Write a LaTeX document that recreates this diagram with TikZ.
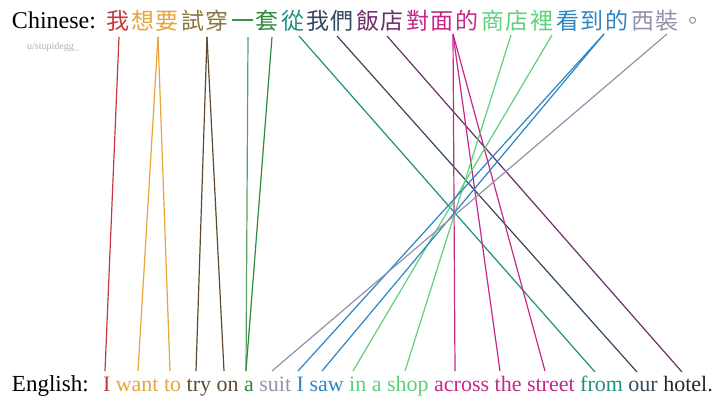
\documentclass[tikz,border=0pt]{standalone}
\usepackage{fontspec}
\setmainfont{Liberation Serif}
\newfontfamily\cjk{Noto Sans CJK TC}
\newcommand\zgap{\kern2pt}
\definecolor{cRed}{HTML}{C63A3A}
\definecolor{cOrange}{HTML}{E8A33A}
\definecolor{cBrownZ}{HTML}{8B7442}
\definecolor{cBrown}{HTML}{5E4A2E}
\definecolor{cGreen}{HTML}{2F8A3A}
\definecolor{cTeal}{HTML}{1F9080}
\definecolor{cSlate}{HTML}{34495E}
\definecolor{cPurple}{HTML}{6C2F6E}
\definecolor{cMagenta}{HTML}{C8278A}
\definecolor{cLight}{HTML}{5FD07C}
\definecolor{cBlue}{HTML}{2E85C2}
\definecolor{cGray}{HTML}{9492A8}
\begin{document}
\begin{tikzpicture}[x=1pt,y=-1pt,
  zh/.style={font=\cjk\fontsize{23}{23}\selectfont, inner sep=0pt, outer sep=0pt, anchor=base west},
  en/.style={font=\fontsize{22}{22}\selectfont, inner sep=0pt, outer sep=0pt, anchor=base west},
  lab/.style={inner sep=0pt, outer sep=0pt, anchor=base west, text=black},
  lnk/.style={line width=1.2pt}]
\fill[white] (0,0) rectangle (720,400);
\useasboundingbox (0,0) rectangle (720,400);

% labels
\node[lab, font=\fontsize{24}{24}\selectfont] (zhlab) at (12,28) {Chinese:};
\node[lab, font=\fontsize{23}{23}\selectfont] (enlab) at (12,391) {English:};
\node[inner sep=0pt, anchor=west, text=black!30, font=\fontsize{10}{10}\selectfont] (credit) at (27,47) {u/stupidegg\_};

% Chinese sentence
\node[zh, text=cRed] (z1) at (106,29) {我};
\node[zh, text=cOrange] (z2) at ([xshift=2pt]z1.base east) {想\zgap 要};
\node[zh, text=cBrownZ] (z3) at ([xshift=2pt]z2.base east) {試\zgap 穿};
\node[zh, text=cGreen] (z4) at ([xshift=2pt]z3.base east) {一\zgap 套};
\node[zh, text=cTeal] (z5) at ([xshift=2pt]z4.base east) {從};
\node[zh, text=cSlate] (z6) at ([xshift=2pt]z5.base east) {我\zgap 們};
\node[zh, text=cPurple] (z7) at ([xshift=2pt]z6.base east) {飯\zgap 店};
\node[zh, text=cMagenta] (z8) at ([xshift=2pt]z7.base east) {對\zgap 面\zgap 的};
\node[zh, text=cLight] (z9) at ([xshift=2pt]z8.base east) {商\zgap 店\zgap 裡};
\node[zh, text=cBlue] (z10) at ([xshift=2pt]z9.base east) {看\zgap 到\zgap 的};
\node[zh, text=cGray] (z11) at ([xshift=2pt]z10.base east) {西\zgap 裝};
\node[zh, text=cGray] (z12) at ([xshift=2pt]z11.base east) {。};

% English sentence
\node[en, text=cRed] (e1) at (103,391) {I};
\node[en, text=cOrange] (e2) at ([xshift=5.5pt]e1.base east) {want};
\node[en, text=cOrange] (e3) at ([xshift=5.5pt]e2.base east) {to};
\node[en, text=cBrown] (e4) at ([xshift=5.5pt]e3.base east) {try};
\node[en, text=cBrown] (e5) at ([xshift=5.5pt]e4.base east) {on};
\node[en, text=cGreen] (e6) at ([xshift=5.5pt]e5.base east) {a};
\node[en, text=cGray] (e7) at ([xshift=5.5pt]e6.base east) {suit};
\node[en, text=cBlue] (e8) at ([xshift=5.5pt]e7.base east) {I};
\node[en, text=cBlue] (e9) at ([xshift=5.5pt]e8.base east) {saw};
\node[en, text=cLight] (e10) at ([xshift=5.5pt]e9.base east) {in};
\node[en, text=cLight] (e11) at ([xshift=5.5pt]e10.base east) {a};
\node[en, text=cLight] (e12) at ([xshift=5.5pt]e11.base east) {shop};
\node[en, text=cMagenta] (e13) at ([xshift=5.5pt]e12.base east) {across};
\node[en, text=cMagenta] (e14) at ([xshift=5.5pt]e13.base east) {the};
\node[en, text=cMagenta] (e15) at ([xshift=5.5pt]e14.base east) {street};
\node[en, text=cTeal] (e16) at ([xshift=5.5pt]e15.base east) {from};
\node[en, text=cSlate] (e17) at ([xshift=5.5pt]e16.base east) {our};
\node[en, text=black!85] (e18) at ([xshift=5.5pt]e17.base east) {hotel.};

% top end points
\coordinate (t1) at (119,37);
\coordinate (t2) at (158,37);
\coordinate (t3) at (207,37);
\coordinate (t4) at (248,37);
\coordinate (t5) at (272,37);
\coordinate (t6) at (299,36);
\coordinate (t7) at (337,36);
\coordinate (t8) at (387,36);
\coordinate (t9) at (453,34);
\coordinate (t10) at (511,35);
\coordinate (t11) at (552,35);
\coordinate (t12) at (604,34);
\coordinate (t13) at (667,34);

% bottom end points
\coordinate (b1) at (105,371);
\coordinate (b2) at (138,371);
\coordinate (b3) at (170,371);
\coordinate (b4) at (196,371);
\coordinate (b5) at (224,371);
\coordinate (b6) at (246,371);
\coordinate (b7) at (272,371);
\coordinate (b8) at (298,371);
\coordinate (b9) at (322,371);
\coordinate (b10) at (353,371);
\coordinate (b12) at (405,371);
\coordinate (b13) at (455,371);
\coordinate (b14) at (500,371);
\coordinate (b15) at (545,371);
\coordinate (b16) at (595,372);
\coordinate (b17) at (637,372);
\coordinate (b18) at (682,372);

% connectors
\draw[lnk, cRed] (t1) -- (b1);
\draw[lnk, cOrange] (t2) -- (b2);
\draw[lnk, cOrange] (t2) -- (b3);
\draw[lnk, cBrown] (t3) -- (b4);
\draw[lnk, cBrown] (t3) -- (b5);
\draw[lnk, cGreen!80] (t4) -- (b6);
\draw[lnk, cGreen] (t5) -- (b6);
\draw[lnk, cTeal] (t6) -- (b16);
\draw[lnk, cSlate] (t7) -- (b17);
\draw[lnk, cPurple] (t8) -- (b18);
\draw[lnk, cMagenta] (t9) -- (b13);
\draw[lnk, cMagenta] (t9) -- (b14);
\draw[lnk, cMagenta] (t9) -- (b15);
\draw[lnk, cLight] (t10) -- (b12);
\draw[lnk, cLight] (t11) -- (b10);
\draw[lnk, cBlue] (t12) -- (b8);
\draw[lnk, cBlue] (t12) -- (b9);
\draw[lnk, cGray] (t13) -- (b7);
\end{tikzpicture}
\end{document}
